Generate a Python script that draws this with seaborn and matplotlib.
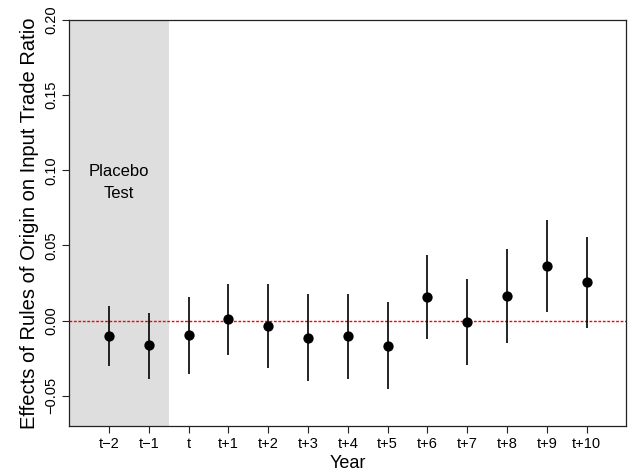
import numpy as np
import pandas as pd
import matplotlib
matplotlib.use("Agg")
import matplotlib.pyplot as plt
import seaborn as sns

# event-study estimates
years = ["t\u22122", "t\u22121", "t", "t+1", "t+2", "t+3", "t+4",
         "t+5", "t+6", "t+7", "t+8", "t+9", "t+10"]
est = [-0.0106, -0.0166, -0.0097, 0.0008, -0.0035, -0.0115, -0.0103,
       -0.0168, 0.0157, -0.0008, 0.0165, 0.0363, 0.0255]
ci_low = [-0.0306, -0.0386, -0.0353, -0.0228, -0.0315, -0.0403, -0.0388,
          -0.0457, -0.0123, -0.0297, -0.0152, 0.0057, -0.0048]
ci_high = [0.0097, 0.0050, 0.0157, 0.0243, 0.0243, 0.0175, 0.0177,
           0.0121, 0.0435, 0.0277, 0.0477, 0.0668, 0.0555]
yticks = [-0.05, 0.00, 0.05, 0.10, 0.15, 0.20]
ytick_labels = ["\u22120.05", "0.00", "0.05", "0.10", "0.15", "0.20"]

dt = pd.DataFrame({"year": years, "est": est, "lo": ci_low, "hi": ci_high})
dt["pos"] = np.arange(1, len(dt) + 1)

sns.set_style("white")
plt.rcParams['font.family'] = ['Liberation Sans', 'DejaVu Sans']
plt.rcParams['text.color'] = 'black'
plt.rcParams['axes.labelcolor'] = 'black'
plt.rcParams['xtick.color'] = 'black'
plt.rcParams['ytick.color'] = 'black'

fig = plt.figure(figsize=(6.31, 4.76), dpi=100)
ax = fig.add_axes([0.1098, 0.1057, 0.8828, 0.8523])

# placebo period shading
ax.axvspan(0, 2.5, color="#dedede", lw=0, zorder=0)
ax.text(1.25, 0.092, "Placebo\nTest", ha="center", va="center",
        fontsize=12, linespacing=1.55)

ax.axhline(0, color="#ff0000", lw=1.0, ls=(0, (2, 1.2)), zorder=1)
ax.vlines(dt["pos"], dt["lo"], dt["hi"], color="black", lw=1.2, zorder=2)
sns.scatterplot(data=dt, x="pos", y="est", ax=ax, color="black", s=55,
                edgecolor="black", linewidth=0, zorder=3, legend=False)

ax.set_xlim(0, 14)
ax.set_ylim(-0.07, 0.2)
ax.set_xticks(dt["pos"])
ax.set_xticklabels(dt["year"], fontsize=10.5)
ax.set_yticks(yticks)
ax.set_yticklabels(ytick_labels, fontsize=10.5, rotation=90, va="center")
ax.tick_params(axis="both", direction="out", length=5, width=0.8,
               color="#222222", bottom=True, left=True, pad=3)
for s in ax.spines.values():
    s.set_color("#222222")
    s.set_linewidth(0.9)

ax.set_xlabel("Year", fontsize=13, labelpad=3)
ax.set_ylabel("Effects of Rules of Origin on Input Trade Ratio", fontsize=14.5,
              labelpad=4)

fig.savefig("out.png", dpi=100)
